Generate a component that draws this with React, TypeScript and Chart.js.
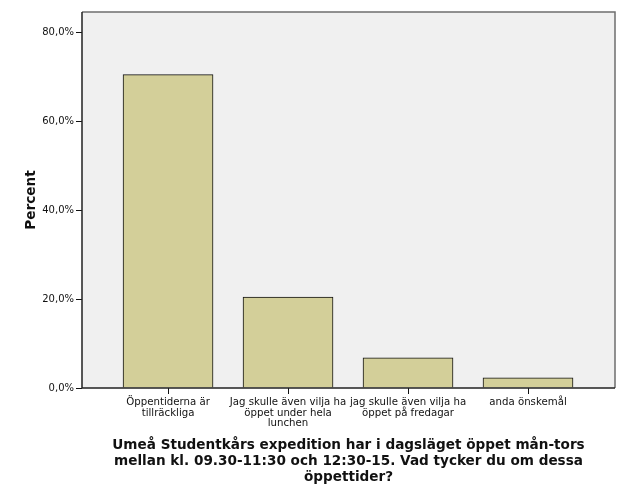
import React, { useEffect, useRef } from "react";
import { Chart, registerables } from "chart.js";

Chart.register(...registerables);

const categories: string[][] = [
  ["Öppentiderna är", "tillräckliga"],
  ["Jag skulle även vilja ha", "öppet under hela", "lunchen"],
  ["jag skulle även vilja ha", "öppet på fredagar"],
  ["anda önskemål"],
];
const percents: number[] = [70.6, 20.5, 6.8, 2.3];
const yTicks: number[] = [0, 20, 40, 60, 80];
const xTitle: string[] = [
  "Umeå Studentkårs expedition har i dagsläget öppet mån-tors",
  "mellan kl. 09.30-11:30 och 12:30-15. Vad tycker du om dessa",
  "öppettider?",
];
const yTitle = "Percent";

const FONT = "'DejaVu Sans', Verdana, sans-serif";

const frame = {
  id: "frame",
  beforeDraw(chart: any) {
    const { ctx, chartArea: a } = chart;
    ctx.save();
    ctx.fillStyle = "#f0f0f0";
    ctx.fillRect(a.left, a.top, a.right - a.left, a.bottom - a.top);
    ctx.restore();
  },
  afterDraw(chart: any) {
    const { ctx, chartArea: a } = chart;
    ctx.save();
    ctx.strokeStyle = "#6e6e6e";
    ctx.lineWidth = 1.5;
    ctx.beginPath();
    ctx.moveTo(a.left, a.top);
    ctx.lineTo(a.right, a.top);
    ctx.lineTo(a.right, a.bottom);
    ctx.stroke();
    ctx.strokeStyle = "#222";
    ctx.beginPath();
    ctx.moveTo(a.left, a.top);
    ctx.lineTo(a.left, a.bottom);
    ctx.lineTo(a.right, a.bottom);
    ctx.stroke();
    ctx.restore();
  },
};

export default function App() {
  const ref = useRef<HTMLCanvasElement>(null);
  useEffect(() => {
    if (!ref.current) return;
    const chart = new Chart(ref.current, {
      type: "bar",
      data: {
        datasets: [
          {
            data: percents.map((v, i) => ({ x: i, y: v })),
            backgroundColor: "#d3cf99",
            borderColor: "#111",
            borderWidth: 1,
            barThickness: 90,
          },
        ],
      },
      options: {
        animation: false,
        responsive: false,
        layout: { padding: { top: 12, right: 12, left: 0, bottom: 0 } },
        plugins: { legend: { display: false }, tooltip: { enabled: false } },
        scales: {
          x: {
            type: "linear",
            offset: false,
            min: -0.717,
            max: 3.725,
            afterBuildTicks: (s: any) => {
              s.ticks = categories.map((_, i) => ({ value: i }));
            },
            afterFit: (s: any) => {
              s.height = 114;
            },
            grid: {
              offset: false,
              drawOnChartArea: false,
              tickLength: 6,
              color: "#111",
              tickColor: "#111",
            },
            border: { display: false },
            ticks: {
              autoSkip: false,
              maxRotation: 0,
              padding: 3,
              color: "#111",
              font: { family: FONT, size: 10.2, lineHeight: 1.05 },
              callback: (v: any) => categories[Number(v)] ?? "",
            },
            title: {
              display: true,
              text: xTitle,
              color: "#111",
              font: { family: FONT, size: 13.6, weight: "bold", lineHeight: 16 / 13.6 },
              padding: { top: 0, bottom: 17 },
            },
          },
          y: {
            min: 0,
            max: 84.7,
            afterBuildTicks: (s: any) => {
              s.ticks = yTicks.map((v) => ({ value: v }));
            },
            afterFit: (s: any) => {
              s.width = 82;
            },
            grid: {
              drawOnChartArea: false,
              tickLength: 6,
              tickColor: "#111",
            },
            border: { display: false },
            ticks: {
              padding: 2,
              color: "#111",
              font: { family: FONT, size: 10 },
              callback: (v: any) => Number(v).toFixed(1).replace(".", ",") + "%",
            },
            title: {
              display: true,
              text: yTitle,
              color: "#111",
              font: { family: FONT, size: 13.6, weight: "bold" },
              padding: { top: 23, bottom: 0 },
            },
          },
        },
      },
      plugins: [frame],
    });
    return () => chart.destroy();
  }, []);
  return (
    <div style={{ position: "fixed", left: 0, top: 0, width: 627, height: 502, background: "#fff" }}>
      <canvas ref={ref} width={627} height={502} style={{ width: 627, height: 502 }} />
    </div>
  );
}
